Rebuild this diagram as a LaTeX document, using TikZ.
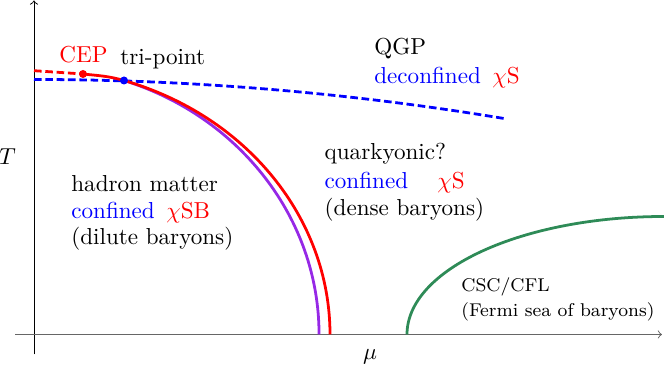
\documentclass[tikz,border=0pt]{standalone}
\usepackage{amsmath,amssymb}
\usepackage{tikz}
\definecolor{phviolet}{RGB}{150,40,230}
\definecolor{phgreen}{RGB}{46,139,87}

\begin{document}
\begin{tikzpicture}[x=.01521cm,y=.01521cm,line width=1.2pt,
  lbl/.style={anchor=base west,inner sep=0pt},
  dsh/.style={dash pattern=on 3.3pt off 1.6pt}]
\useasboundingbox (-34,-32.5) rectangle (630,334.5);
\coordinate (o) at (0,0);
\coordinate (yb) at (0,-20);
\coordinate (yt) at (0,334);
\coordinate (xl) at (-19,0);
\coordinate (xr) at (628,0);
\coordinate (cep) at (49,260.5);
\coordinate (tri) at (90,254);
\coordinate (cl) at (0,263.8);
\coordinate (bl) at (0,255);
\coordinate (br) at (473,215.5);
\coordinate (cfl) at (373,0);
\draw[line width=.4pt,->] (yb)--(yt);
\draw[line width=.4pt,black!60,->] (xl)--(xr);
\draw[blue,dsh] (bl) .. controls (157.7,255) and (315.3,241.8) .. (br);
\draw[phviolet] (tri) arc[start angle=71.6,end angle=0,x radius=285,y radius=267.6];
\draw[red,dsh] (cl)--(cep);
\draw[red] (cep) to[out=-6,in=164] (tri)
   arc[start angle=72.3,end angle=0,x radius=296,y radius=266.6];
\draw[phgreen] (cfl) arc[start angle=180,end angle=90,x radius=257,y radius=118];
\fill[red] (cep) circle[radius=4];
\fill[blue] (tri) circle[radius=4];
\node[lbl,red] (cepL) at (24,271.5) {CEP};
\node[lbl] (triL) at (85,270) {tri-point};
\node[lbl] (qgp) at (339,279.5) {QGP};
\node[lbl,blue] (deconf) at (339,251.2) {deconfined};
\node[lbl,red] (chiS1) at (457,251.2) {$\chi$S};
\node[lbl] (quark) at (289.3,174.5) {quarkyonic?};
\node[lbl,blue] (conf1) at (289.3,146.2) {confined};
\node[lbl,red] (chiS2) at (402,146.2) {$\chi$S};
\node[lbl] (dense) at (289.3,119) {(dense baryons)};
\node[lbl] (hadron) at (36,142.8) {hadron matter};
\node[lbl,blue] (conf2) at (36,116.2) {confined};
\node[lbl,red] (chiSB) at (131,116.2) {$\chi$SB};
\node[lbl] (dilute) at (36,89.5) {(dilute baryons)};
\node[lbl] (csc) at (426,42.8) {\footnotesize CSC/CFL};
\node[lbl] (fermi) at (426,17.8) {\footnotesize (Fermi sea of baryons)};
\node[anchor=base,inner sep=0pt] (tlab) at (-26.5,169.5) {$T$};
\node[anchor=base,inner sep=0pt] (mulab) at (336,-25.5) {$\mu$};
\end{tikzpicture}
\end{document}
